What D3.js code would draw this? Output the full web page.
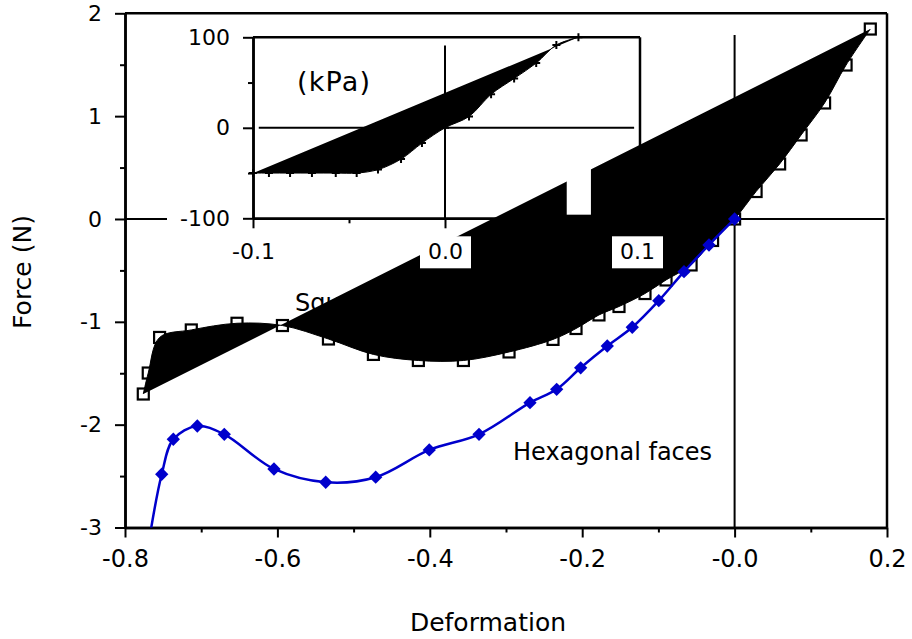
<!DOCTYPE html>
<html><head><meta charset="utf-8">
<script src="https://cdn.jsdelivr.net/npm/d3@7"></script>
<style>
html,body{margin:0;padding:0;background:#fff;}
svg{display:block;font-family:"DejaVu Sans",Verdana,sans-serif;}
</style>
</head><body>
<svg id="c" width="912" height="639"></svg>
<script>
// ---------- data ----------
const squareX = [-0.776,-0.7695,-0.7546,-0.713,-0.653,-0.5934,-0.533,-0.474,-0.415,-0.3559,-0.296,-0.2383,-0.2081,-0.178,-0.1517,-0.1176,-0.09,-0.0571,-0.0289,0.0,0.0282,0.0591,0.0873,0.1181,0.1463,0.1781];
const squareY = [-1.702,-1.498,-1.152,-1.079,-1.014,-1.036,-1.167,-1.317,-1.376,-1.376,-1.293,-1.171,-1.065,-0.933,-0.851,-0.725,-0.593,-0.447,-0.209,0.0,0.267,0.535,0.817,1.128,1.497,1.847];
const hexX = [-0.770,-0.7518,-0.7366,-0.7051,-0.6697,-0.6045,-0.5366,-0.471,-0.4007,-0.3354,-0.2685,-0.2335,-0.202,-0.1671,-0.1343,-0.0995,-0.0664,-0.0336,0.0];
const hexY = [-3.2,-2.482,-2.142,-2.013,-2.094,-2.431,-2.56,-2.511,-2.246,-2.094,-1.786,-1.656,-1.447,-1.235,-1.053,-0.794,-0.512,-0.253,0.0];
const insetX = [-0.1,-0.0917,-0.0807,-0.0693,-0.0569,-0.046,-0.0349,-0.0229,-0.012,0.0,0.0125,0.024,0.036,0.0475,0.058,0.0695];
const insetY = [-50,-50,-50,-50,-50,-50,-46.2,-34.6,-16.9,0,12.5,37,54.5,71.5,91.5,100];

const xTicks = [-0.8,-0.6,-0.4,-0.2,0.0,0.2];
const xMinor = [-0.7,-0.5,-0.3,-0.1,0.1];
const yTicks = [2,1,0,-1,-2,-3];
const yMinor = [1.5,0.5,-0.5,-1.5,-2.5];
const insetXTicks = [-0.1,0.0,0.1];
const insetXLabels = ["-0.1","0.0","0.1"];
const insetXMinor = [-0.05,0.05];
const insetYTicks = [100,0,-100];
const insetYMinor = [50,-50];

// ---------- setup ----------
const svg = d3.select("#c");
const x = d3.scaleLinear([-0.8,0.2],[125,887]);
const y = d3.scaleLinear([-3,2],[527.5,13.3]);
const ix = d3.scaleLinear([-0.1,0.1],[253,637]);
const iy = d3.scaleLinear([-100,100],[218.3,37.3]);

svg.append("defs").append("clipPath").attr("id","plot")
  .append("rect").attr("x",125).attr("y",13.3).attr("width",762).attr("height",514.2);

const fmtX = d => d===0 ? "-0.0" : d.toFixed(1);
const fmtY = d => String(d);

// zero lines (main)
svg.append("line").attr("x1",x(-0.8)).attr("x2",x(0.197)).attr("y1",y(0)).attr("y2",y(0))
  .attr("stroke","#000").attr("stroke-width",2);
svg.append("line").attr("x1",x(0)).attr("x2",x(0)).attr("y1",y(1.79)).attr("y2",y(-3))
  .attr("stroke","#000").attr("stroke-width",2);

// main axes
function styleAxis(g, fs){
  g.select(".domain").attr("stroke","#000").attr("stroke-width",2.5);
  g.selectAll(".tick line").attr("stroke","#000").attr("stroke-width",2);
  g.selectAll(".tick text").attr("fill","#000").attr("font-size",fs)
    .attr("font-family","DejaVu Sans, Verdana, sans-serif");
}
const gx = svg.append("g").attr("transform",`translate(0,${y(-3)})`)
  .call(d3.axisBottom(x).tickValues(xTicks).tickFormat(fmtX).tickSize(10).tickSizeOuter(0).tickPadding(12));
styleAxis(gx,24);
const gxm = svg.append("g").attr("transform",`translate(0,${y(-3)})`)
  .call(d3.axisBottom(x).tickValues(xMinor).tickFormat("").tickSize(5).tickSizeOuter(0));
styleAxis(gxm,24);
const gy = svg.append("g").attr("transform",`translate(${x(-0.8)},0)`)
  .call(d3.axisLeft(y).tickValues(yTicks).tickFormat(fmtY).tickSize(10).tickSizeOuter(0).tickPadding(13));
styleAxis(gy,22);
const gym = svg.append("g").attr("transform",`translate(${x(-0.8)},0)`)
  .call(d3.axisLeft(y).tickValues(yMinor).tickFormat("").tickSize(5).tickSizeOuter(0));
styleAxis(gym,22);
// frame
svg.append("line").attr("x1",x(-0.8)).attr("x2",x(0.2)).attr("y1",y(2)).attr("y2",y(2)).attr("stroke","#000").attr("stroke-width",2.5);
svg.append("line").attr("x1",x(0.2)).attr("x2",x(0.2)).attr("y1",y(2)).attr("y2",y(-3)).attr("stroke","#000").attr("stroke-width",2.5);

// "Square faces" label (underneath the fill)
svg.append("text").attr("x",295).attr("y",311).attr("font-size",24).attr("fill","#000").text("Square faces");

// ---------- inset ----------
const inset = svg.append("g");
inset.append("rect").attr("x",167).attr("y",24).attr("width",478).attr("height",248).attr("fill","#fff");
inset.append("line").attr("x1",ix(-0.097)).attr("x2",ix(0.0985)).attr("y1",iy(0)).attr("y2",iy(0)).attr("stroke","#000").attr("stroke-width",2);
inset.append("line").attr("x1",ix(0)).attr("x2",ix(0)).attr("y1",iy(91)).attr("y2",iy(-100)).attr("stroke","#000").attr("stroke-width",2);
const igx = inset.append("g").attr("transform",`translate(0,${iy(-100)})`)
  .call(d3.axisBottom(ix).tickValues(insetXTicks).tickFormat("").tickSize(10).tickSizeOuter(0));
styleAxis(igx,22);
const igxm = inset.append("g").attr("transform",`translate(0,${iy(-100)})`)
  .call(d3.axisBottom(ix).tickValues(insetXMinor).tickFormat("").tickSize(5).tickSizeOuter(0));
styleAxis(igxm,22);
const igy = inset.append("g").attr("transform",`translate(${ix(-0.1)},0)`)
  .call(d3.axisLeft(iy).tickValues(insetYTicks).tickFormat(d=>String(d)).tickSize(10).tickSizeOuter(0).tickPadding(13));
styleAxis(igy,22);
const igym = inset.append("g").attr("transform",`translate(${ix(-0.1)},0)`)
  .call(d3.axisLeft(iy).tickValues(insetYMinor).tickFormat("").tickSize(5).tickSizeOuter(0));
styleAxis(igym,22);
inset.append("line").attr("x1",ix(-0.1)).attr("x2",ix(0.1)+3).attr("y1",iy(100)).attr("y2",iy(100)).attr("stroke","#000").attr("stroke-width",2.5);
inset.append("line").attr("x1",ix(0.1)+3).attr("x2",ix(0.1)+3).attr("y1",iy(100)).attr("y2",iy(-100)).attr("stroke","#000").attr("stroke-width",2.5);

const insetData = insetX.map((v,i)=>[v,insetY[i]]);
inset.selectAll("path.cross").data(insetData).join("path").attr("class","cross")
  .attr("transform",d=>`translate(${ix(d[0])},${iy(d[1])})`)
  .attr("d","M-4,0H4M0,-4V4").attr("stroke","#000").attr("stroke-width",2).attr("fill","none");
const insetLine = d3.line().x(d=>ix(d[0])).y(d=>iy(d[1])).curve(d3.curveCatmullRom.alpha(0.5));
inset.append("path").attr("d",insetLine(insetData)).attr("fill","#000").attr("stroke","#000").attr("stroke-width",1);
inset.append("text").attr("x",297).attr("y",91).attr("font-size",27).attr("letter-spacing",1.2).attr("fill","#000").text("(kPa)");

// ---------- main series ----------
const plot = svg.append("g").attr("clip-path","url(#plot)");
const sqData = squareX.map((v,i)=>[v,squareY[i]]);
plot.selectAll("rect.sq").data(sqData).join("rect").attr("class","sq")
  .attr("x",d=>x(d[0])-5.5).attr("y",d=>y(d[1])-5.5).attr("width",11).attr("height",11)
  .attr("fill","#fff").attr("stroke","#000").attr("stroke-width",2.2);
const sqLine = d3.line().x(d=>x(d[0])).y(d=>y(d[1])).curve(d3.curveCatmullRom.alpha(0.5));
plot.append("path").attr("d",sqLine(sqData)).attr("fill","#000").attr("stroke","#000").attr("stroke-width",1);

const hexData = hexX.map((v,i)=>[v,hexY[i]]);
const hexLine = d3.line().x(d=>x(d[0])).y(d=>y(d[1])).curve(d3.curveCatmullRom.alpha(0.5));
plot.append("path").attr("d",hexLine(hexData)).attr("fill","none").attr("stroke","#0000cc").attr("stroke-width",2.5);
plot.selectAll("rect.hx").data(hexData).join("rect").attr("class","hx")
  .attr("x",-4.7).attr("y",-4.7).attr("width",9.4).attr("height",9.4)
  .attr("transform",d=>`translate(${x(d[0])},${y(d[1])}) rotate(45)`)
  .attr("fill","#0000cc");

// ---------- inset x labels with white boxes (on top) ----------
const ilab = svg.append("g").attr("transform",`translate(0,${iy(-100)})`)
  .call(d3.axisBottom(ix).tickValues(insetXTicks).tickFormat((d,i)=>insetXLabels[i]).tickSize(0).tickPadding(25));
ilab.select(".domain").remove();
ilab.selectAll(".tick text").attr("fill","#000").attr("font-size",22).attr("font-family","DejaVu Sans, Verdana, sans-serif");
ilab.selectAll(".tick").insert("rect","text").attr("x",-25.5).attr("y",18).attr("width",51).attr("height",32).attr("fill","#fff");
// white patch
svg.append("rect").attr("x",ix(0.0634)).attr("y",iy(-36)).attr("width",ix(0.076)-ix(0.0634)).attr("height",iy(-96)-iy(-36)).attr("fill","#fff");

// ---------- labels ----------
svg.append("text").attr("x",513).attr("y",460).attr("font-size",24).attr("fill","#000").text("Hexagonal faces");
svg.append("text").attr("x",488).attr("y",631).attr("text-anchor","middle").attr("font-size",25).attr("fill","#000").text("Deformation");
svg.append("text").attr("transform","translate(31,272) rotate(-90)").attr("text-anchor","middle").attr("font-size",25).attr("fill","#000").text("Force (N)");
</script>
</body></html>
